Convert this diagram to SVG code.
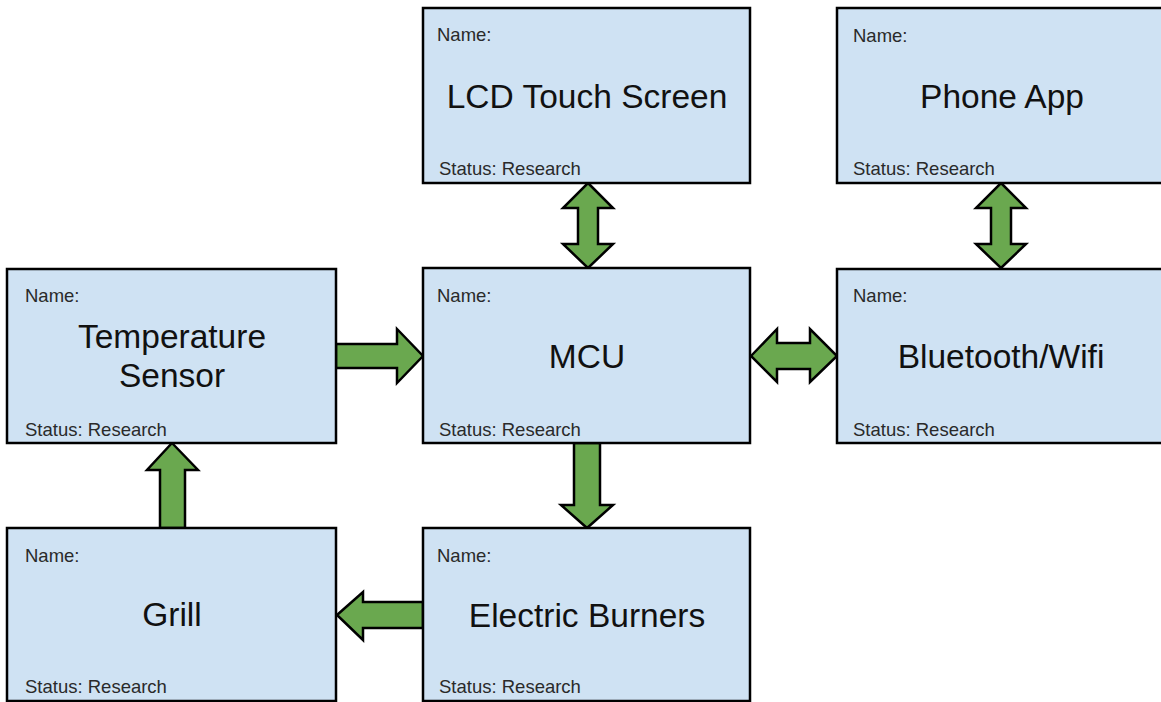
<svg xmlns="http://www.w3.org/2000/svg" width="1161" height="702" viewBox="0 0 1161 702">
  <style>
    .box { fill: #cfe2f3; stroke: #000000; stroke-width: 2.5; }
    .small { font-family: "Liberation Sans", Arial, sans-serif; font-size: 18.5px; fill: #2a2a2a; }
    .label { font-family: "Liberation Sans", Arial, sans-serif; font-size: 33.5px; fill: #111111; text-anchor: middle; }
    .arrow { fill: #6aa84f; stroke: #000000; stroke-width: 2.5; stroke-linejoin: miter; }
  </style>
  <rect width="1161" height="702" fill="#ffffff"/>

  <!-- connectors -->
  <g id="connectors">
    <!-- LCD Touch Screen <-> MCU -->
    <path class="arrow" d="M588,183 L613,208 L598,208 L598,244 L613,244 L588,268 L563,244 L578,244 L578,208 L563,208 Z"/>
    <!-- Phone App <-> Bluetooth/Wifi -->
    <path class="arrow" d="M1001,183 L1026,208 L1011,208 L1011,244 L1026,244 L1001,268 L976,244 L991,244 L991,208 L976,208 Z"/>
    <!-- Temperature Sensor -> MCU -->
    <path class="arrow" d="M336,344 L397,344 L397,329 L423,356 L397,383 L397,368 L336,368 Z"/>
    <!-- MCU <-> Bluetooth/Wifi -->
    <path class="arrow" d="M751,356 L777,329 L777,343 L810,343 L810,329 L837,356 L810,382 L810,369 L777,369 L777,382 Z"/>
    <!-- MCU -> Electric Burners -->
    <path class="arrow" d="M574,443 L600,443 L600,505 L613,505 L587,528 L561,505 L574,505 Z"/>
    <!-- Grill -> Temperature Sensor -->
    <path class="arrow" d="M172,443 L198,470 L185,470 L185,528 L160,528 L160,470 L147,470 Z"/>
    <!-- Electric Burners -> Grill -->
    <path class="arrow" d="M337,615 L363,592 L363,602 L423,602 L423,628 L363,628 L363,640 Z"/>
  </g>

  <g id="lcd">
    <rect class="box" x="423" y="8" width="327" height="175"/>
    <text class="small" x="437" y="41">Name:</text>
    <text class="label" x="587" y="108">LCD Touch Screen</text>
    <text class="small" x="439" y="175">Status: Research</text>
  </g>

  <g id="phone-app">
    <rect class="box" x="837" y="8" width="328" height="175"/>
    <text class="small" x="853" y="42">Name:</text>
    <text class="label" x="1002" y="108">Phone App</text>
    <text class="small" x="853" y="175">Status: Research</text>
  </g>

  <g id="temperature-sensor">
    <rect class="box" x="7" y="269" width="329" height="174"/>
    <text class="small" x="25" y="302">Name:</text>
    <text class="label" x="172" y="348">Temperature</text>
    <text class="label" x="172" y="387">Sensor</text>
    <text class="small" x="25" y="436">Status: Research</text>
  </g>

  <g id="mcu">
    <rect class="box" x="423" y="268" width="327" height="175"/>
    <text class="small" x="437" y="302">Name:</text>
    <text class="label" x="587" y="368">MCU</text>
    <text class="small" x="439" y="436">Status: Research</text>
  </g>

  <g id="bluetooth-wifi">
    <rect class="box" x="837" y="269" width="328" height="174"/>
    <text class="small" x="853" y="302">Name:</text>
    <text class="label" x="1001" y="368">Bluetooth/Wifi</text>
    <text class="small" x="853" y="436">Status: Research</text>
  </g>

  <g id="grill">
    <rect class="box" x="7" y="528" width="329" height="173"/>
    <text class="small" x="25" y="562">Name:</text>
    <text class="label" x="172" y="626">Grill</text>
    <text class="small" x="25" y="693">Status: Research</text>
  </g>

  <g id="electric-burners">
    <rect class="box" x="423" y="528" width="327" height="173"/>
    <text class="small" x="437" y="562">Name:</text>
    <text class="label" x="587" y="627">Electric Burners</text>
    <text class="small" x="439" y="693">Status: Research</text>
  </g>
</svg>
